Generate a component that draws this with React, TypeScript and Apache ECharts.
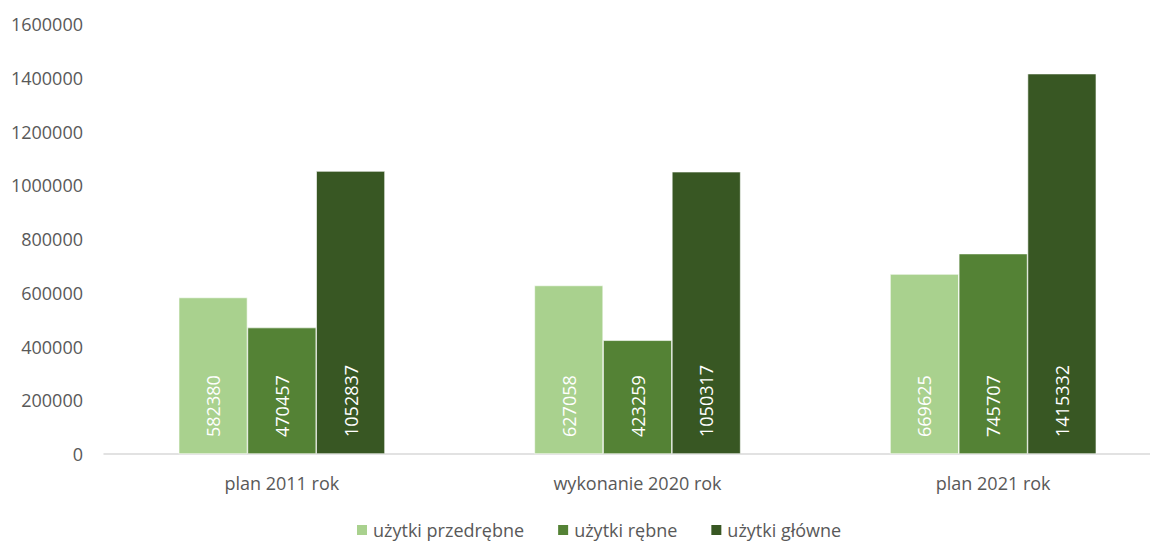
import React, { useEffect, useRef } from "react";
import * as echarts from "echarts";

const categories = ["plan 2011 rok", "wykonanie 2020 rok", "plan 2021 rok"];
const seriesNames = ["użytki przedrębne", "użytki rębne", "użytki główne"];
const przedrebne = [582380, 627058, 669625];
const rebne = [470457, 423259, 745707];
const glowne = [1052837, 1050317, 1415332];
const colors = ["#A9D18E", "#548235", "#385723"];
const yMax = 1600000;
const yInterval = 200000;

const FONT = "'Open Sans', 'Noto Sans', sans-serif";

export default function App() {
  const ref = useRef<HTMLDivElement>(null);
  useEffect(() => {
    if (!ref.current) return;
    const chart = echarts.init(ref.current, undefined, { renderer: "svg" });
    const values = [przedrebne, rebne, glowne];
    chart.setOption({
      animation: false,
      textStyle: { fontFamily: FONT },
      grid: { left: 96, top: 16, width: 1067, height: 430, containLabel: false, outerBoundsMode: "none" },
      legend: {
        left: 347,
        bottom: 1,
        padding: 0,
        itemWidth: 12,
        itemHeight: 12,
        itemGap: 32,
        icon: "rect",
        textStyle: { color: "#595959", fontSize: 18, lineHeight: 20, fontFamily: FONT },
        data: seriesNames,
      },
      xAxis: {
        type: "category",
        data: categories,
        axisLine: { show: true, lineStyle: { color: "#D9D9D9", width: 1.5 } },
        axisTick: { show: false },
        axisLabel: { color: "#595959", fontSize: 18, margin: 20, fontFamily: FONT },
      },
      yAxis: {
        type: "value",
        min: 0,
        max: yMax,
        interval: yInterval,
        axisLine: { show: false },
        axisTick: { show: false },
        splitLine: { show: false },
        axisLabel: {
          color: "#595959",
          fontSize: 18,
          margin: 21,
          fontFamily: FONT,
          formatter: (v: number) => String(v),
        },
      },
      series: seriesNames.map((name, i) => ({
        name,
        type: "bar",
        data: values[i],
        barGap: "0%",
        barCategoryGap: "42%",
        itemStyle: { color: colors[i], borderColor: "#ffffff", borderWidth: 0.6 },
        label: {
          show: true,
          position: "insideBottom",
          rotate: 90,
          align: "left",
          verticalAlign: "middle",
          distance: 17,
          color: "#ffffff",
          fontSize: 18,
          fontFamily: FONT,
        },
      })),
    });
    return () => chart.dispose();
  }, []);
  return (
    <div style={{ width: 1150, height: 533, overflow: "hidden" }}>
      <div ref={ref} style={{ width: 1175, height: 533 }} />
    </div>
  );
}
